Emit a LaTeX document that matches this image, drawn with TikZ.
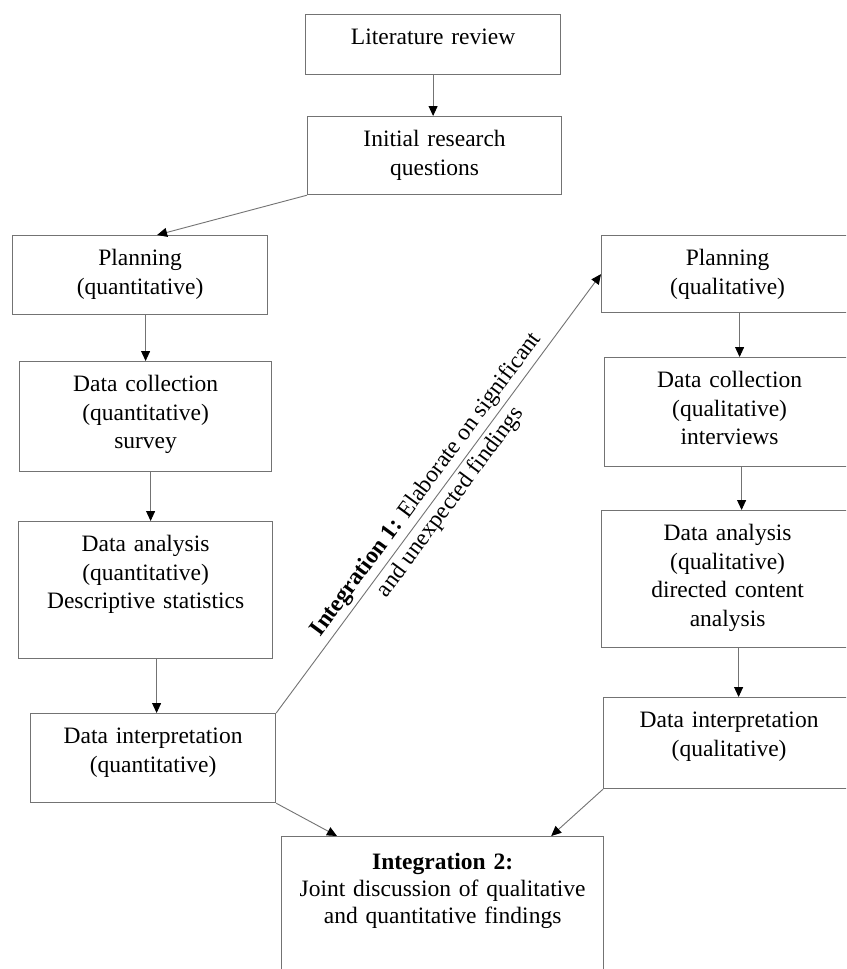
\documentclass[tikz,border=0pt]{standalone}
\usepackage{fontspec}
\setmainfont{Liberation Serif}
\usetikzlibrary{arrows.meta}
\definecolor{linegray}{gray}{0.45}
\tikzset{
    stage/.style 2 args={draw=linegray,line width=1.2pt,inner sep=0pt,anchor=north west,
        align=center,text width=#1,text height=30pt,text depth=#2},
    flow/.style={draw=linegray,line width=0.9pt,-{Triangle[length=10pt,width=9pt,color=black]}}
}
\begin{document}
\begin{tikzpicture}[x=1pt,y=-1pt,font=\fontsize{23.5}{28.5}\selectfont]
    \clip (0,0) rectangle (846,969);
    \fill[white] (0,0) rectangle (846,969);
    % centre column
    \node[stage={255pt}{30pt}] (lit) at (305,14) {Literature review};
    \node[stage={254pt}{48pt}] (init) at (307,116) {Initial research\\questions};
    % quantitative strand
    \node[stage={255pt}{49pt}] (planquant) at (12,235) {Planning\\(quantitative)};
    \node[stage={252pt}{80pt}] (collquant) at (19,361) {Data collection\\(quantitative)\\survey};
    \node[stage={254pt}{107pt}] (anaquant) at (18,521) {Data analysis\\(quantitative)\\Descriptive statistics};
    \node[stage={245pt}{59pt}] (interpquant) at (30,713) {Data interpretation\\(quantitative)};
    % qualitative strand
    \node[stage={252pt}{47pt}] (planqual) at (601,235) {Planning\\(qualitative)};
    \node[stage={250pt}{79pt}] (collqual) at (604,357) {Data collection\\(qualitative)\\interviews};
    \node[stage={252pt}{107pt}] (anaqual) at (601,510) {Data analysis\\(qualitative)\\directed content\\analysis};
    \node[stage={251pt}{61pt}] (interpqual) at (603,697) {Data interpretation\\(qualitative)};
    % joint box
    \node[stage={322pt}{117pt},text height=33pt,font=\fontsize{23.5}{27}\selectfont] (joint) at (281,836)
        {\textbf{Integration 2:}\\Joint discussion of qualitative\\and quantitative findings};

    \draw[flow] (lit.south) -- (lit.south |- init.north);
    \draw[flow] (init.south west) -- ([xshift=17pt]planquant.north);
    \draw[flow] (planquant.south -| collquant.north) -- (collquant.north);
    \draw[flow] ([xshift=5pt]collquant.south) -- ([xshift=5pt]collquant.south |- anaquant.north);
    \draw[flow] ([xshift=11pt]anaquant.south) -- ([xshift=11pt]anaquant.south |- interpquant.north);
    \draw[flow] ([xshift=12pt]planqual.south) -- ([xshift=12pt]planqual.south |- collqual.north);
    \draw[flow] ([xshift=12pt]collqual.south) -- ([xshift=12pt]collqual.south |- anaqual.north);
    \draw[flow] ([xshift=11pt]anaqual.south) -- ([xshift=11pt]anaqual.south |- interpqual.north);
    \draw[flow] (interpquant.north east) -- (planqual.west)
        node[midway,sloped,align=center,font=\fontsize{23.5}{30}\selectfont]
        {\textbf{Integration 1:} Elaborate on significant\\and unexpected findings};
    \draw[flow] (interpquant.south east) -- ([xshift=56pt]joint.north west);
    \draw[flow] (interpqual.south west) -- ([xshift=-53pt]joint.north east);
\end{tikzpicture}
\end{document}
